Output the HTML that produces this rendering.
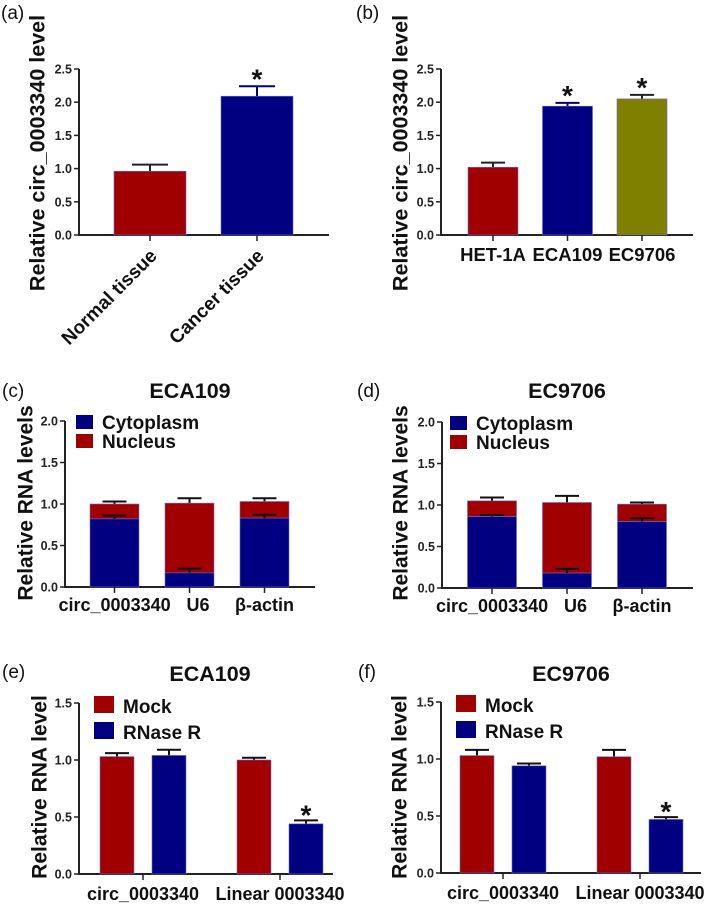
<!DOCTYPE html>
<html><head><meta charset="utf-8"><style>
html,body{margin:0;padding:0;background:#fff}
svg{display:block;font-family:"Liberation Sans",Arial,sans-serif}
</style></head><body>
<svg id="fig" width="709" height="904" viewBox="0 0 709 904" xmlns="http://www.w3.org/2000/svg"></svg>
<script>
// Panel (a)
const aCats = ["Normal tissue", "Cancer tissue"];
const aVals = [0.96, 2.09];
const aErr = [1.06, 2.24];
const aSig = [false, true];
// Panel (b)
const bCats = ["HET-1A", "ECA109", "EC9706"];
const bVals = [1.02, 1.94, 2.05];
const bErr = [1.09, 1.99, 2.11];
const bSig = [false, true, true];
const abTicks = ["0.0", "0.5", "1.0", "1.5", "2.0", "2.5"];
// Panel (c)/(d)
const stackCats = ["circ_0003340", "U6", "β-actin"];
const cCyto = [0.82, 0.17, 0.83];
const cCytoErr = [0.86, 0.22, 0.87];
const cTotal = [1.00, 1.01, 1.03];
const cTotalErr = [1.03, 1.07, 1.07];
const dCyto = [0.86, 0.18, 0.80];
const dCytoErr = [0.88, 0.23, 0.84];
const dTotal = [1.05, 1.03, 1.01];
const dTotalErr = [1.09, 1.11, 1.03];
const cdTicks = ["0.0", "0.5", "1.0", "1.5", "2.0"];
// Panel (e)/(f)
const efCats = ["circ_0003340", "Linear 0003340"];
const eMock = [1.03, 1.00];
const eMockErr = [1.06, 1.02];
const eRnase = [1.04, 0.44];
const eRnaseErr = [1.09, 0.47];
const fMock = [1.03, 1.02];
const fMockErr = [1.08, 1.08];
const fRnase = [0.94, 0.47];
const fRnaseErr = [0.96, 0.49];
const efSig = [false, true];
const efTicks = ["0.0", "0.5", "1.0", "1.5"];

const RED = "#a00000", BLUE = "#000080", OLIVE = "#808000";
const NS = "http://www.w3.org/2000/svg";
const svg = document.getElementById("fig");
function mk(tag, attrs, parent, text) {
  const e = document.createElementNS(NS, tag);
  for (const k in attrs) e.setAttribute(k, attrs[k]);
  if (text !== undefined) e.textContent = text;
  (parent || svg).appendChild(e);
  return e;
}
function axes(g, P, ticks, max) {
  const y = v => P.y0 - (v / max) * (P.y0 - P.yTop);
  const ax = mk("line", {x1: P.x0, y1: P.yTop, x2: P.x0, y2: P.y0 + 1, stroke: "#222", "stroke-width": 2}, g);
  
  
  const xa = mk("line", {x1: P.x0 - 1, y1: P.y0, x2: P.x1, y2: P.y0, stroke: "#222", "stroke-width": 2}, g);
  
  
  ticks.forEach(t => {
    const v = parseFloat(t), yy = y(v);
    mk("line", {x1: P.x0 - 5, y1: yy, x2: P.x0, y2: yy, stroke: "#222", "stroke-width": 1.5}, g);
    const tl = mk("text", {x: P.x0 - 7, y: yy + 4.5, "text-anchor": "end", "font-size": 12.5, "font-weight": "bold", fill: "#222"}, g, t);
    
    
  });
  return y;
}
function ytitle(g, x, y, txt, fs) {
  const t = mk("text", {x: x, y: y, "text-anchor": "middle", "font-size": fs, "font-weight": "bold", fill: "#111", transform: `rotate(-90 ${x} ${y})`, "dominant-baseline": "middle"}, g, txt);
  
  
}
function plabel(x, y, txt) {
  const t = mk("text", {x: x, y: y, "font-size": 19, fill: "#111"}, svg, txt);
  
  
}
function ptitle(x, y, txt) {
  const t = mk("text", {x: x, y: y, "text-anchor": "middle", "font-size": 21.5, "font-weight": "bold", fill: "#111"}, svg, txt);
  
  
}
function bar(g, x, w, yTop, yBot, color, name) {
  const r = mk("rect", {x: x, y: yTop, width: w, height: yBot - yTop, fill: color, stroke: "#6a6ad0", "stroke-width": 0.6}, g);
  
  
}
function err(g, cx, yv, ye, hw, color) {
  const e = mk("path", {d: `M${cx} ${yv} V${ye} M${cx - hw} ${ye} H${cx + hw}`, stroke: color, "stroke-width": 2, fill: "none"}, g);
  
  
}
function star(g, cx, ye) {
  const s = mk("text", {x: cx, y: ye + 10, "text-anchor": "middle", "font-size": 28, "font-weight": "bold", fill: "#111"}, g, "*");
  
  
}
function legend(g, x, y, items, fs, sw, sh, gap) {
  items.forEach((it, i) => {
    const yy = y + i * gap;
    const r = mk("rect", {x: x, y: yy, width: sw, height: sh, fill: it[1]}, g);
    
    
    const t = mk("text", {x: x + sw + 9, y: yy + sh, "font-size": fs, "font-weight": "bold", fill: "#111"}, g, it[0]);
    
    
  });
}

// ---- Panel (a)
(function(){
  const g = mk("g", {});  
  const P = {x0: 79, x1: 329, y0: 235, yTop: 69};
  const y = axes(g, P, abTicks, 2.5);
  const step = 107, bw = 72, start = 150;
  aCats.forEach((c, i) => {
    const cx = start + i * step;
    err(g, cx, y(aVals[i]), y(aErr[i]), 18, i ? BLUE : "#222");
    bar(g, cx - bw / 2, bw, y(aVals[i]), P.y0, i ? BLUE : RED, "bar-" + i);
    mk("line", {x1: cx, y1: P.y0, x2: cx, y2: P.y0 + 6, stroke: "#222", "stroke-width": 1.5}, g);
    if (aSig[i]) star(g, cx, y(aErr[i]) - 8);
    const lx = cx + 8, ly = P.y0 + 22;
    const t = mk("text", {x: lx, y: ly, "text-anchor": "end", "font-size": 19, "font-weight": "bold", fill: "#111", transform: `rotate(-45 ${lx} ${ly})`}, g, c);
    
    
  });
  ytitle(g, 39, 153, "Relative circ_0003340 level", 21.5);
  plabel(1, 19, "(a)");
})();

// ---- Panel (b)
(function(){
  const g = mk("g", {});  
  const P = {x0: 441, x1: 693, y0: 235, yTop: 69};
  const y = axes(g, P, abTicks, 2.5);
  const cols = [RED, BLUE, OLIVE];
  const step = 74.5, bw = 50, start = 493;
  bCats.forEach((c, i) => {
    const cx = start + i * step;
    err(g, cx, y(bVals[i]), y(bErr[i]), 12, i === 1 ? BLUE : "#222");
    bar(g, cx - bw / 2, bw, y(bVals[i]), P.y0, cols[i], "bar-" + c);
    mk("line", {x1: cx, y1: P.y0, x2: cx, y2: P.y0 + 6, stroke: "#222", "stroke-width": 1.5}, g);
    if (bSig[i]) star(g, cx, y(bErr[i]) - 8);
    const t = mk("text", {x: cx, y: 261, "text-anchor": "middle", "font-size": 18.5, "font-weight": "bold", fill: "#111"}, g, c);
    
    
  });
  ytitle(g, 402, 153, "Relative circ_0003340 level", 21.5);
  plabel(356, 19, "(b)");
})();

// ---- stacked panels
function stacked(name, P, cyto, cytoE, tot, totE, titleX, titleY, lx, lab, labX, ytX) {
  const g = mk("g", {});  
  const y = axes(g, P, cdTicks, 2.0);
  stackCats.forEach((c, i) => {
    const cx = P.start + i * 75, bw = 49;
    err(g, cx, y(tot[i]), y(totE[i]), 12, "#111");
    bar(g, cx - bw / 2, bw, y(tot[i]), y(cyto[i]), RED, "bar-nucleus");
    bar(g, cx - bw / 2, bw, y(cyto[i]), P.y0, BLUE, "bar-cytoplasm");
    err(g, cx, y(cyto[i]), y(cytoE[i]), 12, "#111");
    mk("line", {x1: cx, y1: P.y0, x2: cx, y2: P.y0 + 6, stroke: "#222", "stroke-width": 1.5}, g);
  });
  const lbls = [[P.start - 56, "start", "circ_0003340"], [P.start + 72, "start", "U6"], [P.start + 150, "middle", "β-actin"]];
  lbls.forEach(l => {
    const t = mk("text", {x: l[0], y: P.y0 + 24, "text-anchor": l[1], "font-size": 18, "font-weight": "bold", fill: "#111"}, g, l[2]);
    
    
  });
  legend(g, lx, P.yTop - 6, [["Cytoplasm", BLUE], ["Nucleus", RED]], 19, 17, 14, 19);
  ptitle(titleX, titleY, P.title);
  ytitle(g, ytX, 503, "Relative RNA levels", 21);
  plabel(labX, 397, lab);
}
stacked("panel-c", {x0: 65, x1: 315, y0: 587, yTop: 421, start: 114.5, title: "ECA109"}, cCyto, cCytoErr, cTotal, cTotalErr, 190, 398, 76, "(c)", 2, 27);
stacked("panel-d", {x0: 442, x1: 693, y0: 588, yTop: 422, start: 492, title: "EC9706"}, dCyto, dCytoErr, dTotal, dTotalErr, 567, 398, 450, "(d)", 357, 402);

// ---- grouped panels
function grouped(name, P, mock, mockE, rn, rnE, lab, labX, ytX) {
  const g = mk("g", {});  
  const y = axes(g, P, efTicks, 1.5);
  efCats.forEach((c, i) => {
    const cx = P.start + i * 137, bw = 34, off = 26;
    err(g, cx - off, y(mock[i]), y(mockE[i]), 12, "#111");
    bar(g, cx - off - bw / 2, bw, y(mock[i]), P.y0, RED, "bar-mock");
    err(g, cx + off, y(rn[i]), y(rnE[i]), 12, "#111");
    bar(g, cx + off - bw / 2, bw, y(rn[i]), P.y0, BLUE, "bar-rnase-r");
    if (efSig[i]) star(g, cx + off, y(rnE[i]) - 6);
    mk("line", {x1: cx, y1: P.y0, x2: cx, y2: P.y0 + 6, stroke: "#222", "stroke-width": 1.5}, g);
    const t = mk("text", {x: cx, y: P.y0 + 26, "text-anchor": "middle", "font-size": 18, "font-weight": "bold", fill: "#111"}, g, c);
    
    
  });
  legend(g, P.lx, P.yTop - 7, [["Mock", RED], ["RNase R", BLUE]], 19, 20, 17, 26);
  ptitle(P.tx, 681, P.title);
  ytitle(g, ytX, 787, "Relative RNA level", 21);
  plabel(labX, 678, lab);
}
grouped("panel-e", {x0: 79, x1: 333, y0: 874, yTop: 703, start: 143, lx: 94, tx: 210, title: "ECA109"}, eMock, eMockErr, eRnase, eRnaseErr, "(e)", 2, 41);
grouped("panel-f", {x0: 441, x1: 701, y0: 873, yTop: 702, start: 503, lx: 456, tx: 571, title: "EC9706"}, fMock, fMockErr, fRnase, fRnaseErr, "(f)", 358, 401);
</script>
</body></html>
